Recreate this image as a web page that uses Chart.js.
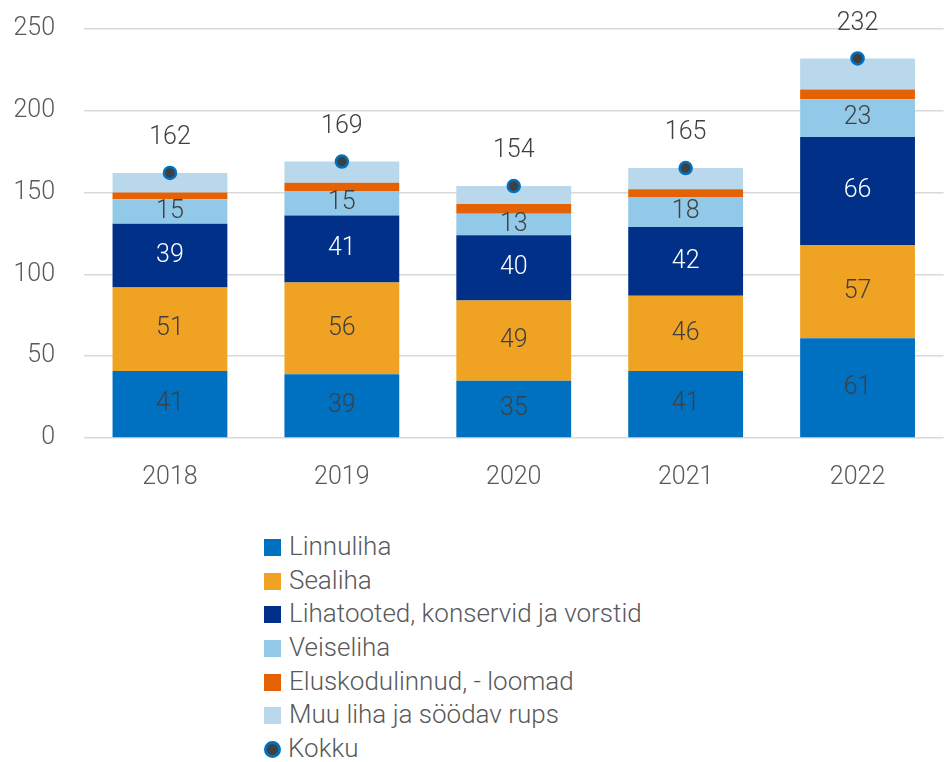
<!DOCTYPE html>
<html>
<head>
<meta charset="utf-8">
<script src="https://cdn.jsdelivr.net/npm/chart.js@4"></script>
<style>
	html, body { margin: 0; padding: 0; background: #fff; overflow: hidden; }
	#wrap { position: absolute; left: 0; top: 0; width: 952px; height: 530px; }
	#legend { position: absolute; left: 264px; top: 530px; font: 300 26px Roboto, sans-serif; color: #595959; }
	.item { height: 33.7px; line-height: 33.7px; white-space: nowrap; }
	.box { display: inline-block; width: 17px; height: 17px; margin-right: 8px; vertical-align: -1px; }
	.dot { display: inline-block; width: 11px; height: 11px; border-radius: 50%; border: 3px solid #0070c0; background: #404040; margin-right: 7px; vertical-align: -1px; }
</style>
</head>
<body>
<div id="wrap"><canvas id="chart" width="952" height="530"></canvas></div>
<div id="legend"></div>
<script>
// Categories and series
const years = ['2018', '2019', '2020', '2021', '2022'];
const linnuliha = [41, 39, 35, 41, 61];
const sealiha = [51, 56, 49, 46, 57];
const lihatooted = [39, 41, 40, 42, 66];
const veiseliha = [15, 15, 13, 18, 23];
const eluskod = [4, 5, 6, 5, 6];
const muuLiha = [12, 13, 11, 13, 19];
const kokku = [162, 169, 154, 165, 232];
const yTicks = [0, 50, 100, 150, 200, 250];

const fontFamily = 'Roboto, sans-serif';

// Draw values inside segments and totals above points
const valueLabels = {
	id: 'valueLabels',
	afterDatasetsDraw(chart) {
		const ctx = chart.ctx;
		ctx.save();
		ctx.font = '300 25px ' + fontFamily;
		ctx.textAlign = 'center';
		ctx.textBaseline = 'middle';
		chart.data.datasets.forEach((ds, i) => {
			if (!ds.valueColor) return;
			ctx.fillStyle = ds.valueColor;
			const meta = chart.getDatasetMeta(i);
			meta.data.forEach((el, j) => {
				if (ds.type === 'line') {
					ctx.fillText(ds.data[j], el.x, el.y - 35);
				} else {
					ctx.fillText(ds.data[j], el.x, (el.y + el.base) / 2);
				}
			});
		});
		ctx.restore();
	}
};

const ctx = document.getElementById('chart').getContext('2d');
const chart = new Chart(ctx, {
	type: 'bar',
	data: {
		labels: years,
		datasets: [
			{ label: 'Linnuliha', data: linnuliha, backgroundColor: '#0070c0', valueColor: '#404040', order: 1 },
			{ label: 'Sealiha', data: sealiha, backgroundColor: '#f0a323', valueColor: '#404040', order: 1 },
			{ label: 'Lihatooted, konservid ja vorstid', data: lihatooted, backgroundColor: '#003087', valueColor: '#ffffff', order: 1 },
			{ label: 'Veiseliha', data: veiseliha, backgroundColor: '#93c9e8', valueColor: '#404040', order: 1 },
			{ label: 'Eluskodulinnud, - loomad', data: eluskod, backgroundColor: '#e46204', order: 1 },
			{ label: 'Muu liha ja söödav rups', data: muuLiha, backgroundColor: '#b9d8eb', order: 1 },
			{
				type: 'line', label: 'Kokku', data: kokku, stack: 'total', showLine: false,
				pointRadius: 6, pointHoverRadius: 6, pointBorderWidth: 2.5,
				pointBackgroundColor: '#404040', pointBorderColor: '#0070c0',
				valueColor: '#404040', order: 0
			}
		]
	},
	options: {
		responsive: false,
		animation: false,
		layout: { padding: { top: 29, bottom: 20, left: 0, right: 0 } },
		datasets: { bar: { barPercentage: 0.668, categoryPercentage: 1 } },
		scales: {
			x: {
				stacked: true,
				grid: { display: false },
				border: { display: false },
				ticks: { color: '#595959', font: { family: fontFamily, size: 25, weight: 300 }, padding: 17 }
			},
			y: {
				stacked: true,
				min: 0,
				max: 250,
				afterFit(scale) { scale.width = 84; },
				afterBuildTicks(scale) { scale.ticks = yTicks.map(v => ({ value: v })); },
				grid: { color: '#d9d9d9', lineWidth: 1.5, drawTicks: true, tickLength: 29, tickColor: 'rgba(0,0,0,0)' },
				border: { display: false },
				ticks: { color: '#595959', font: { family: fontFamily, size: 25, weight: 300 }, padding: 0 }
			}
		},
		plugins: {
			legend: { display: false },
			tooltip: { enabled: false }
		}
	},
	plugins: [valueLabels]
});

// HTML legend in one column
const legend = document.getElementById('legend');
chart.data.datasets.forEach(ds => {
	const row = document.createElement('div');
	row.className = 'item';
	const mark = document.createElement('span');
	if (ds.type === 'line') {
		mark.className = 'dot';
	} else {
		mark.className = 'box';
		mark.style.background = ds.backgroundColor;
	}
	row.appendChild(mark);
	row.appendChild(document.createTextNode(ds.label));
	legend.appendChild(row);
});
</script>
</body>
</html>
